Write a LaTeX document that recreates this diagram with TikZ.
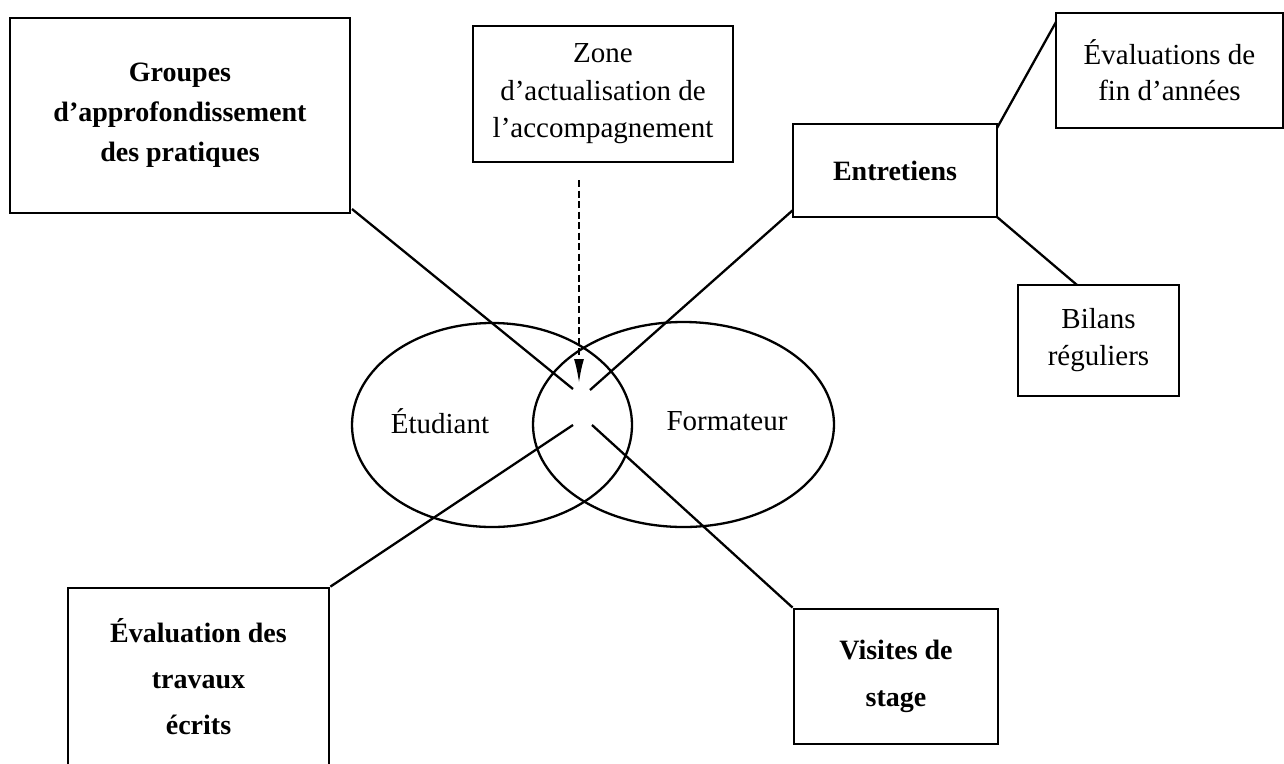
\documentclass[tikz,border=0pt]{standalone}
\usepackage{fontspec}
\setmainfont{Liberation Serif}
\usetikzlibrary{arrows.meta,shapes.geometric}
\begin{document}
\begin{tikzpicture}[x=1pt,y=-1pt,
  boxa/.style={draw, line width=2.8pt, inner sep=0pt, align=center, rectangle},
  ell/.style={draw, ellipse, line width=2.3pt, inner sep=0pt},
  conn/.style={line width=2.3pt},
  lbl/.style={inner sep=0pt, align=center, font=\fontsize{29}{37}\selectfont},
  fb/.style={font=\fontsize{28}{#1}\selectfont\bfseries},
  fr/.style={font=\fontsize{29}{#1}\selectfont}]
\useasboundingbox (0,0) rectangle (1284,763);
% boxes
\node[boxa, minimum width=340pt, minimum height=195pt, fb=40] (grp) at (180,115.5)
  {Groupes\\d’approfondissement\\des pratiques};
\node[boxa, minimum width=260pt, minimum height=136pt, fr=37.5] (zone) at (603,94)
  {Zone\\d’actualisation de\\l’accompagnement};
\node[boxa, minimum width=227pt, minimum height=115pt, fr=36] (evf) at (1169.5,70.5)
  {Évaluations de\\fin d’années};
\node[boxa, minimum width=204pt, minimum height=93pt, fb=37] (entr) at (895,170.5)
  {Entretiens};
\node[boxa, minimum width=161pt, minimum height=111pt, fr=37] (bil) at (1098.5,340.5)
  {Bilans\\réguliers};
\node[boxa, minimum width=261pt, minimum height=178pt, fb=46] (evt) at (198.5,677)
  {Évaluation des\\travaux\\écrits};
\node[boxa, minimum width=204pt, minimum height=135pt, fb=47] (vis) at (896,676.5)
  {Visites de\\stage};
% ellipses
\node[ell, minimum width=280pt, minimum height=204pt] (etuE) at (492,425) {};
\node[ell, minimum width=301pt, minimum height=205pt] (forE) at (683.5,424.5) {};
\node[lbl] (etu) at (440,421) {Étudiant};
\node[lbl] (for) at (727,421) {Formateur};
% connector end points
\coordinate (cUL) at (573,389);
\coordinate (cUR) at (590,390);
\coordinate (cLL) at (573,425);
\coordinate (cLR) at (592,425);
\coordinate (grpC) at (352,209);
\coordinate (entrW) at (793,210);
\coordinate (entrNE) at (997,128);
\coordinate (evfW) at (1056,22);
\coordinate (entrSE) at (997,217);
\coordinate (bilN) at (1077,285);
\coordinate (arrS) at (579,180);
\coordinate (arrE) at (579,383);
% connectors
\draw[conn] (grpC) -- (cUL);
\draw[conn] (entrW) -- (cUR);
\draw[conn] (evt.north east) -- (cLL);
\draw[conn] (vis.north west) -- (cLR);
\draw[conn] (entrNE) -- (evfW);
\draw[conn] (entrSE) -- (bilN);
\draw[line width=1.9pt, dash pattern=on 7pt off 3.5pt, -{Latex[length=24pt,width=10pt]}] (arrS) -- (arrE);
\end{tikzpicture}
\end{document}
